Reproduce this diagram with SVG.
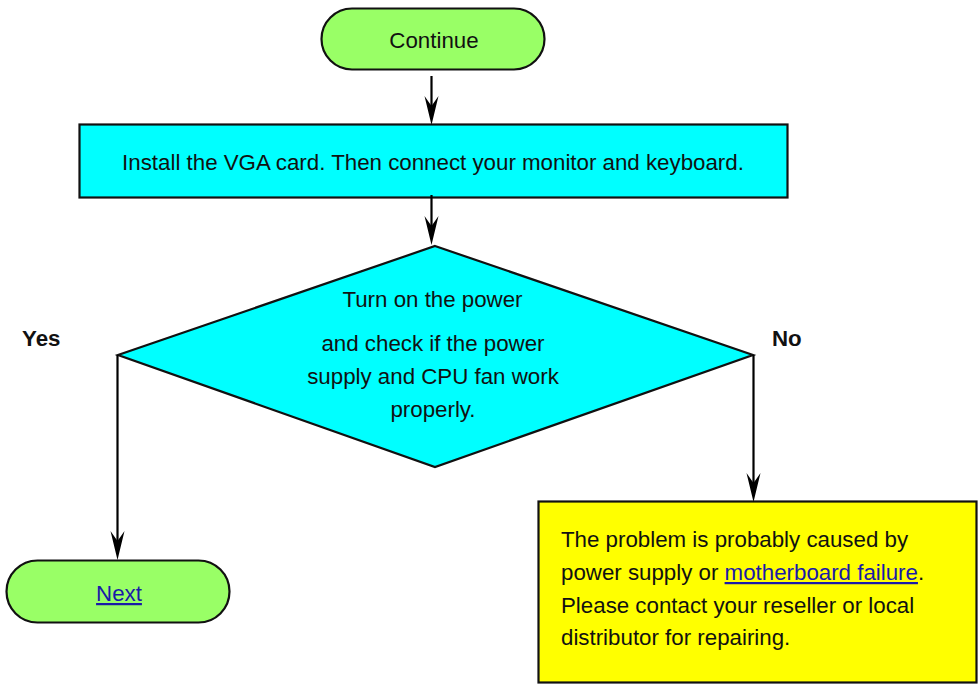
<svg xmlns="http://www.w3.org/2000/svg" width="978" height="687" viewBox="0 0 978 687">
<style>
text{font-family:"Liberation Sans",Arial,sans-serif;font-size:22.3px;fill:#111}
.c{text-anchor:middle}
.b{font-weight:bold}
.l{fill:#1a1aa8;text-decoration:underline}
.s{stroke:#111;stroke-width:2.200}
.g{fill:#99ff66}
.line{fill:none;stroke:#000;stroke-width:2.200;marker-end:url(#arr)}
</style>
<defs>
<marker id="arr" markerUnits="userSpaceOnUse" markerWidth="30" markerHeight="16" refX="21" refY="8" orient="auto" viewBox="0 0 30 16">
<path d="M29 8L0 1L10 8L0 15Z" fill="#000"/>
</marker>
</defs>
<rect width="978" height="687" fill="#fff"/>
<g id="continue">
<rect class="s g" x="321.500" y="8.500" width="223" height="61" rx="30.500"/>
<text class="c" x="434" y="48">Continue</text>
</g>
<g id="install">
<rect class="s" fill="#00ffff" x="79.500" y="124.500" width="708" height="73"/>
<text class="c" x="433" y="169.500">Install the VGA card. Then connect your monitor and keyboard.</text>
</g>
<g id="check">
<polygon class="s" fill="#00ffff" points="435,246 753,355 435,467 118,355"/>
<text class="c" x="432.500" y="307">Turn on the power</text>
<text class="c" x="433" y="351">and check if the power</text>
<text class="c" x="433" y="384">supply and CPU fan work</text>
<text class="c" x="433" y="417">properly.</text>
</g>
<g id="next">
<rect class="s g" x="6.500" y="560.500" width="223" height="62" rx="31"/>
<a href="#next"><text class="c l" x="119" y="601">Next</text></a>
</g>
<g id="problem">
<rect class="s" fill="#ffff00" x="538.500" y="501.500" width="438" height="181"/>
<text x="561" y="547">The problem is probably caused by</text>
<text x="561" y="580">power supply or <a href="#board"><tspan class="l">motherboard failure</tspan></a>.</text>
<text x="561" y="613">Please contact your reseller or local</text>
<text x="561" y="645">distributor for repairing.</text>
</g>
<g id="labels">
<text class="b" x="22" y="346">Yes</text>
<text class="b" x="772" y="346">No</text>
</g>
<g id="connectors">
<path class="line" d="M431.500 76V117"/>
<path class="line" d="M431.500 195V237"/>
<path class="line" d="M117.500 355V552"/>
<path class="line" d="M753.500 355V494"/>
</g>
</svg>
